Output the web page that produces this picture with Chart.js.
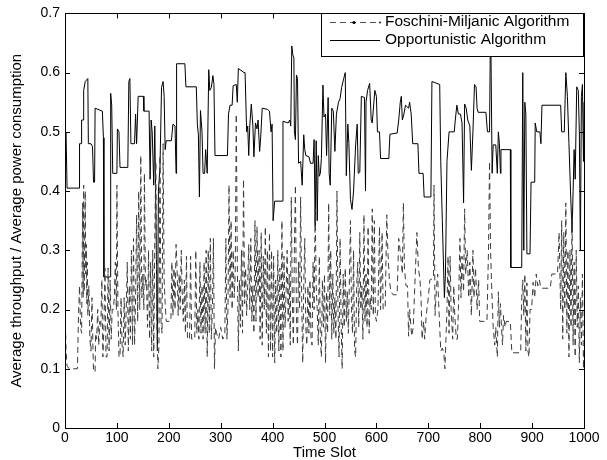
<!DOCTYPE html>
<html>
<head>
<meta charset="utf-8">
<script src="https://cdn.jsdelivr.net/npm/chart.js@4/dist/chart.umd.min.js"></script>
<style>
html,body{margin:0;padding:0;background:#fff;}
#c{display:block;}
</style>
</head>
<body>
<canvas id="c" width="607" height="460"></canvas>
<script>
const xTicks = [0,100,200,300,400,500,600,700,800,900,1000];
const yTicks = [0,0.1,0.2,0.3,0.4,0.5,0.6,0.7];
const seriesLabels = ['Foschini-Miljanic Algorithm','Opportunistic Algorithm'];
const xTitle = 'Time Slot';
const yTitle = 'Average throughput / Average power consumption';

const opSlots = [
0,2,4,27,28,31,32,35,36,39,
44,45,50,53,55,57,58,72,74,75,
87,88,90,92,100,101,104,106,121,123,
125,127,134,136,138,141,151,152,162,164,
166,168,171,173,176,178,180,183,186,189,
191,193,195,205,208,212,214,215,231,233,
253,255,257,259,261,264,266,269,271,274,
277,279,282,285,287,289,313,315,318,322,
324,330,332,334,345,347,350,352,354,356,
359,362,364,367,370,372,375,377,380,390,
394,397,399,401,404,419,420,430,433,435,
437,439,441,442,444,446,448,450,454,457,
460,462,464,470,473,478,480,482,484,486,
488,490,492,494,497,499,502,504,507,509,
511,514,517,520,523,527,530,533,537,540,
542,545,547,550,553,556,560,563,565,568,
571,577,579,580,583,587,590,592,597,600,
602,606,608,624,626,640,643,646,648,650,
653,656,662,664,667,670,680,682,690,692,
705,707,722,724,727,731,733,736,740,750,
752,755,758,762,765,768,770,773,776,780,
783,786,789,792,794,796,811,814,818,820,
823,825,830,833,835,837,839,840,858,859,
880,882,884,886,888,890,896,898,905,906,
909,915,917,919,955,957,962,965,968,971,
974,977,979,981,983,986,989,991,993,995,
997,999,1000];
const opValues = [
0.49,0.5,0.405,0.405,0.48,0.48,0.52,0.52,0.57,0.585,
0.59,0.48,0.48,0.475,0.415,0.415,0.54,0.535,0.49,0.255,
0.255,0.565,0.545,0.43,0.43,0.505,0.5,0.44,0.44,0.585,
0.59,0.48,0.48,0.53,0.48,0.56,0.56,0.535,0.535,0.42,
0.52,0.5,0.41,0.51,0.3,0.13,0.4,0.44,0.575,0.585,
0.56,0.47,0.485,0.485,0.513,0.51,0.43,0.615,0.615,0.576,
0.576,0.513,0.495,0.39,0.536,0.5,0.43,0.43,0.47,0.43,
0.605,0.57,0.575,0.595,0.58,0.46,0.46,0.53,0.545,0.545,
0.578,0.58,0.55,0.607,0.6,0.6,0.5,0.51,0.46,0.51,
0.547,0.51,0.458,0.515,0.505,0.52,0.467,0.49,0.54,0.538,
0.535,0.5,0.513,0.35,0.383,0.383,0.518,0.515,0.52,0.51,
0.645,0.63,0.625,0.5,0.487,0.596,0.59,0.447,0.45,0.41,
0.495,0.47,0.46,0.458,0.447,0.447,0.487,0.34,0.485,0.35,
0.46,0.425,0.43,0.455,0.579,0.525,0.53,0.46,0.558,0.43,
0.41,0.54,0.535,0.467,0.53,0.55,0.556,0.575,0.59,0.6,
0.426,0.513,0.48,0.386,0.369,0.4,0.478,0.513,0.43,0.432,
0.56,0.558,0.4,0.55,0.57,0.582,0.52,0.515,0.57,0.56,
0.5,0.5,0.455,0.455,0.496,0.498,0.52,0.55,0.56,0.52,
0.53,0.545,0.54,0.55,0.53,0.48,0.48,0.43,0.43,0.39,
0.39,0.585,0.58,0.45,0.35,0.22,0.26,0.45,0.5,0.5,
0.52,0.545,0.53,0.53,0.515,0.38,0.547,0.54,0.52,0.51,
0.435,0.5,0.58,0.576,0.54,0.533,0.533,0.5,0.5,0.7,
0.43,0.478,0.478,0.43,0.5,0.48,0.43,0.47,0.47,0.271,
0.271,0.6,0.3,0.55,0.53,0.294,0.294,0.415,0.415,0.515,
0.5,0.5,0.48,0.545,0.545,0.5,0.5,0.6,0.56,0.48,
0.4,0.33,0.4,0.47,0.42,0.576,0.57,0.5,0.3,0.56,
0.58,0.45,0.55];

const fmSlots = [
0,2,4,8,24,26,28,30,32,34,
35,36,37,39,40,41,42,43,44,46,
48,50,52,54,55,58,59,61,63,65,
67,69,71,73,75,77,79,81,83,85,
87,89,91,93,95,97,99,100,102,104,
106,108,110,112,114,116,118,120,122,124,
126,128,130,132,134,136,138,140,142,144,
146,148,150,152,153,155,157,159,161,163,
165,167,169,171,173,175,177,179,181,183,
185,187,189,191,193,195,204,206,208,210,
212,214,216,218,220,222,224,226,228,230,
232,234,236,240,242,244,250,252,254,256,
258,260,262,264,266,268,270,272,274,276,
278,280,282,284,286,288,290,292,296,300,
304,308,310,312,314,316,318,320,322,324,
326,328,330,332,334,336,338,340,342,344,
346,348,350,352,354,356,358,360,362,364,
366,368,370,372,374,376,378,380,382,384,
386,388,390,392,394,396,398,400,402,404,
406,408,410,412,414,416,418,420,422,424,
426,428,430,432,434,436,438,440,442,444,
446,448,450,452,454,456,458,460,462,464,
466,468,470,472,474,476,478,480,482,484,
486,488,490,492,494,496,498,500,502,504,
506,508,510,512,514,516,518,520,522,524,
526,528,530,532,534,536,538,540,542,544,
546,548,550,552,554,556,558,560,562,564,
566,568,570,572,574,576,578,580,582,584,
586,588,590,592,594,596,598,600,603,606,
608,611,613,617,620,622,625,628,632,640,
643,647,650,652,654,657,660,662,664,668,
671,674,678,681,684,686,688,691,693,696,
700,703,710,711,713,716,718,720,724,727,
730,732,734,736,738,740,742,744,747,749,
751,754,756,758,761,763,765,768,770,772,
775,778,780,783,786,788,791,794,797,799,
813,816,818,820,822,825,828,830,833,835,
837,839,841,843,845,848,850,858,861,878,
880,882,884,886,888,890,892,894,896,899,
902,905,908,911,914,917,935,938,949,952,
955,957,959,961,963,965,967,969,971,973,
975,977,979,981,983,985,987,989,991,993,
995,997,999,1000];
const fmValues = [
0.21,0.13,0.105,0.1,0.1,0.19,0.24,0.17,0.16,0.38,
0.22,0.41,0.23,0.4,0.26,0.31,0.21,0.28,0.19,0.24,
0.15,0.13,0.22,0.13,0.095,0.095,0.16,0.15,0.2,0.14,
0.18,0.17,0.25,0.12,0.17,0.27,0.12,0.12,0.27,0.13,
0.25,0.15,0.2,0.2,0.22,0.28,0.2,0.41,0.2,0.12,
0.12,0.22,0.14,0.12,0.22,0.14,0.2,0.28,0.13,0.24,
0.15,0.3,0.14,0.32,0.14,0.22,0.36,0.18,0.4,0.2,
0.46,0.22,0.26,0.2,0.43,0.24,0.25,0.17,0.3,0.15,
0.28,0.13,0.3,0.12,0.32,0.45,0.18,0.1,0.14,0.46,
0.18,0.16,0.48,0.25,0.21,0.18,0.18,0.28,0.19,0.27,
0.2,0.31,0.27,0.19,0.26,0.2,0.3,0.22,0.18,0.25,
0.16,0.29,0.15,0.15,0.29,0.15,0.15,0.3,0.16,0.2,
0.15,0.28,0.16,0.24,0.15,0.28,0.16,0.3,0.12,0.3,
0.16,0.32,0.15,0.2,0.32,0.1,0.17,0.16,0.15,0.17,
0.15,0.16,0.32,0.15,0.2,0.41,0.22,0.35,0.2,0.3,
0.22,0.26,0.53,0.28,0.13,0.25,0.17,0.3,0.16,0.42,
0.21,0.27,0.19,0.24,0.31,0.2,0.32,0.18,0.24,0.16,
0.35,0.18,0.34,0.22,0.3,0.15,0.33,0.14,0.29,0.2,
0.34,0.16,0.3,0.12,0.33,0.13,0.3,0.12,0.29,0.11,
0.25,0.16,0.3,0.13,0.27,0.12,0.35,0.13,0.29,0.17,
0.23,0.3,0.18,0.26,0.14,0.39,0.22,0.14,0.3,0.41,
0.18,0.14,0.28,0.2,0.39,0.22,0.11,0.24,0.32,0.17,
0.14,0.24,0.16,0.25,0.15,0.14,0.28,0.2,0.37,0.24,
0.2,0.14,0.29,0.15,0.12,0.25,0.17,0.26,0.11,0.23,
0.16,0.38,0.19,0.3,0.15,0.26,0.16,0.22,0.15,0.4,
0.2,0.12,0.32,0.18,0.1,0.26,0.17,0.27,0.18,0.23,
0.16,0.25,0.35,0.2,0.16,0.3,0.13,0.12,0.24,0.28,
0.17,0.33,0.2,0.24,0.15,0.36,0.18,0.26,0.17,0.34,
0.16,0.22,0.2,0.37,0.19,0.35,0.19,0.18,0.2,0.34,
0.2,0.33,0.2,0.205,0.36,0.3,0.25,0.23,0.225,0.225,
0.32,0.29,0.26,0.38,0.27,0.24,0.24,0.155,0.2,0.155,
0.17,0.24,0.33,0.27,0.25,0.22,0.15,0.18,0.15,0.19,
0.22,0.25,0.253,0.41,0.19,0.24,0.26,0.21,0.13,0.135,
0.126,0.1,0.15,0.2,0.29,0.16,0.29,0.2,0.15,0.24,
0.19,0.15,0.15,0.2,0.32,0.22,0.29,0.23,0.37,0.26,
0.3,0.22,0.28,0.19,0.3,0.22,0.27,0.2,0.25,0.18,
0.18,0.3,0.45,0.3,0.24,0.17,0.14,0.17,0.12,0.23,
0.17,0.21,0.17,0.14,0.19,0.17,0.18,0.18,0.127,0.127,
0.22,0.25,0.19,0.26,0.13,0.245,0.13,0.12,0.2,0.2,
0.246,0.22,0.26,0.24,0.25,0.236,0.236,0.26,0.26,0.33,
0.2,0.35,0.15,0.33,0.2,0.38,0.16,0.3,0.12,0.3,
0.17,0.36,0.14,0.28,0.12,0.3,0.17,0.24,0.11,0.22,
0.14,0.26,0.1,0.13];

function pairs(xs, ys){
  const n = Math.min(xs.length, ys.length);
  const out = [];
  for (let i = 0; i < n; i++) out.push({x: xs[i], y: ys[i]});
  return out;
}

const FONT = '"Liberation Sans", Arial, Helvetica, sans-serif';
Chart.defaults.font.family = FONT;
Chart.defaults.color = '#000';

const matlabFrame = {
  id: 'matlabFrame',
  afterDatasetsDraw(chart) {
    const ctx = chart.ctx;
    const a = chart.chartArea;
    const xs = chart.scales.x, ys = chart.scales.y;
    ctx.save();
    ctx.strokeStyle = '#000';
    ctx.lineWidth = 1;
    ctx.beginPath();
    xTicks.forEach(v => {
      const px = Math.round(xs.getPixelForValue(v)) + 0.5;
      ctx.moveTo(px, a.bottom); ctx.lineTo(px, a.bottom - 5);
      ctx.moveTo(px, a.top); ctx.lineTo(px, a.top + 5);
    });
    yTicks.forEach(v => {
      const py = Math.round(ys.getPixelForValue(v)) + 0.5;
      ctx.moveTo(a.left, py); ctx.lineTo(a.left + 5, py);
      ctx.moveTo(a.right, py); ctx.lineTo(a.right - 5, py);
    });
    ctx.stroke();

    // legend box
    const lx = 321, ly = Math.round(a.top), lr = Math.round(a.right), lb = ly + 44;
    ctx.fillStyle = '#fff';
    ctx.fillRect(lx, ly, lr - lx, lb - ly);
    ctx.strokeRect(lx + 0.5, ly + 0.5, lr - lx - 1, lb - ly - 1);
    const r1 = ly + 9, r2 = ly + 27;
    ctx.strokeStyle = '#555';
    ctx.setLineDash([6, 4]);
    ctx.beginPath(); ctx.moveTo(330, r1 + 0.5); ctx.lineTo(380, r1 + 0.5); ctx.stroke();
    ctx.setLineDash([]);
    ctx.fillStyle = '#000';
    ctx.beginPath(); ctx.arc(354, r1 + 0.5, 1.6, 0, Math.PI * 2); ctx.fill();
    ctx.beginPath(); ctx.arc(380, r1 + 0.5, 0.9, 0, Math.PI * 2); ctx.fill();
    ctx.strokeStyle = '#000';
    ctx.beginPath(); ctx.moveTo(330, r2 + 0.5); ctx.lineTo(380, r2 + 0.5); ctx.stroke();
    ctx.font = '15.5px ' + FONT;
    ctx.fillStyle = '#000';
    ctx.textBaseline = 'middle';
    ctx.textAlign = 'left';
    ctx.fillText(seriesLabels[0], 385, r1);
    ctx.fillText(seriesLabels[1], 385, r2);

    // axes box
    ctx.strokeStyle = '#000';
    ctx.strokeRect(Math.round(a.left) + 0.5, Math.round(a.top) + 0.5,
                   Math.round(a.right - a.left), Math.round(a.bottom - a.top));
    ctx.restore();
  }
};

new Chart(document.getElementById('c'), {
  type: 'line',
  data: {
    datasets: [
      {
        label: seriesLabels[0],
        data: pairs(fmSlots, fmValues),
        borderColor: '#3c3c3c',
        borderWidth: 1,
        borderDash: [6, 4],
        pointRadius: 0,
        tension: 0,
        fill: false
      },
      {
        label: seriesLabels[1],
        data: pairs(opSlots, opValues),
        borderColor: '#000',
        borderWidth: 1,
        pointRadius: 0,
        tension: 0,
        fill: false
      }
    ]
  },
  options: {
    responsive: false,
    animation: false,
    devicePixelRatio: 1,
    layout: { padding: { left: 0, top: 13, right: 23, bottom: 0 } },
    plugins: { legend: { display: false }, tooltip: { enabled: false } },
    scales: {
      x: {
        type: 'linear', min: 0, max: 1000,
        afterBuildTicks: s => { s.ticks = xTicks.map(v => ({ value: v })); },
        afterFit: s => { s.height = 32; },
        grid: { display: false, drawTicks: false },
        border: { display: false },
        ticks: { autoSkip: false, maxRotation: 0, padding: 2, color: '#000', font: { size: 14 },
                 callback: v => String(v) },
        title: { display: true, text: xTitle, color: '#000', font: { size: 15 }, padding: { top: 0, bottom: -2 } }
      },
      y: {
        type: 'linear', min: 0, max: 0.7,
        afterBuildTicks: s => { s.ticks = yTicks.map(v => ({ value: v })); },
        afterFit: s => { s.width = 65; },
        grid: { display: false, drawTicks: false },
        border: { display: false },
        ticks: { padding: 5, color: '#000', font: { size: 14 },
                 callback: v => v === 0 ? '0' : Number(v).toFixed(1) },
        title: { display: true, text: yTitle, color: '#000', font: { size: 15 }, padding: { top: 8, bottom: 0 } }
      }
    }
  },
  plugins: [matlabFrame]
});
</script>
</body>
</html>
